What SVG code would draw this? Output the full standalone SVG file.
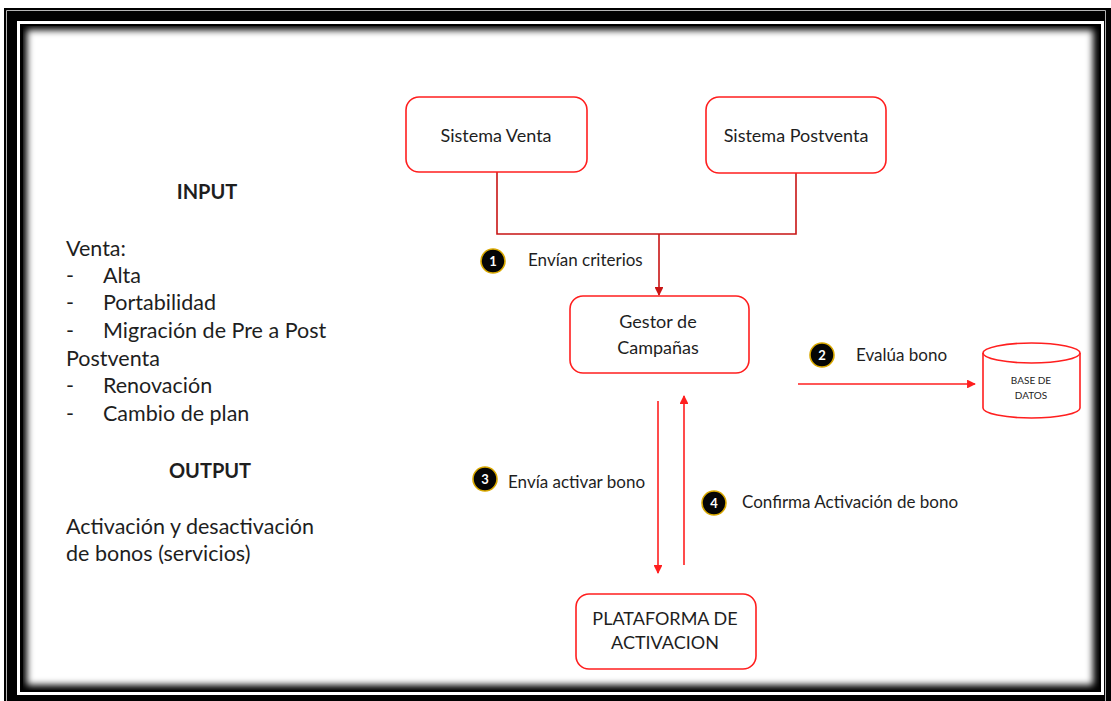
<svg xmlns="http://www.w3.org/2000/svg" width="1111" height="701" viewBox="0 0 1111 701">
  <defs>
    <style>
      .txt { font-family: Lato, "Open Sans", "Liberation Sans", sans-serif; fill: #1e1e1e; }
      .box { fill: #fff; stroke: #ff1f1f; stroke-width: 1.6; }
      .node-label { font-size: 18px; text-anchor: middle; }
      .flow-label { font-size: 17px; }
      .side { font-size: 21.5px; }
      .side-head { font-size: 20px; font-weight: bold; text-anchor: middle; }
      .badge circle { fill: #050505; stroke: #d9a800; stroke-width: 1.6; }
      .badge text { font-family: Lato, "Liberation Sans", sans-serif; font-size: 13px; font-weight: bold; fill: #fff; text-anchor: middle; }
      .feed { fill: none; stroke: #c81414; stroke-width: 1.6; }
      .flow { fill: none; stroke: #ff1f1f; stroke-width: 1.6; }
    </style>
    <marker id="head-dark" viewBox="0 0 10 10" refX="9" refY="5" markerWidth="5.5" markerHeight="5.5" orient="auto" markerUnits="strokeWidth">
      <path d="M0,0 L10,5 L0,10 z" fill="#c81414"/>
    </marker>
    <marker id="head" viewBox="0 0 10 10" refX="9" refY="5" markerWidth="5.5" markerHeight="5.5" orient="auto" markerUnits="strokeWidth">
      <path d="M0,0 L10,5 L0,10 z" fill="#ff1f1f"/>
    </marker>
    <filter id="soft" x="-5%" y="-5%" width="110%" height="110%">
      <feGaussianBlur stdDeviation="3.5"/>
    </filter>
    <clipPath id="inner-clip">
      <rect x="23" y="26" width="1076" height="664"/>
    </clipPath>
  </defs>

  <!-- page background -->
  <rect x="0" y="0" width="1111" height="701" fill="#fff"/>

  <!-- double frame with inner shadow -->
  <g id="frame">
    <rect x="4" y="8" width="1107" height="693" fill="#000"/>
    <path d="M6.5 701 V10.5 H1105.5 V701" fill="none" stroke="#b4b4b4" stroke-width="1"/>
    <rect x="17" y="21" width="1087" height="674" fill="#fff"/>
    <rect x="20" y="24" width="1081" height="668" fill="#000"/>
    <g clip-path="url(#inner-clip)">
      <rect x="27" y="30" width="1066" height="655" fill="#fff" filter="url(#soft)"/>
    </g>
  </g>

  <!-- left description -->
  <g id="summary" class="txt">
    <text class="side-head" x="207" y="199">INPUT</text>
    <text class="side" x="66" y="256">Venta:</text>
    <text class="side" x="66" y="283">-</text>
    <text class="side" x="103" y="283">Alta</text>
    <text class="side" x="66" y="310">-</text>
    <text class="side" x="103" y="310">Portabilidad</text>
    <text class="side" x="66" y="338">-</text>
    <text class="side" x="103" y="338">Migración de Pre a Post</text>
    <text class="side" x="66" y="366">Postventa</text>
    <text class="side" x="66" y="393">-</text>
    <text class="side" x="103" y="393">Renovación</text>
    <text class="side" x="66" y="421">-</text>
    <text class="side" x="103" y="421">Cambio de plan</text>
    <text class="side-head" x="210" y="478">OUTPUT</text>
    <text class="side" x="66" y="534">Activación y desactivación</text>
    <text class="side" x="66" y="561">de bonos (servicios)</text>
  </g>

  <!-- connectors -->
  <g id="connectors">
    <path class="feed" d="M497 172 V234 H796 V173"/>
    <path class="feed" d="M659 234 V295" marker-end="url(#head-dark)"/>
    <path class="flow" d="M798 384 H975" marker-end="url(#head)"/>
    <path class="flow" d="M658 401 V573" marker-end="url(#head)"/>
    <path class="flow" d="M684 565 V396" marker-end="url(#head)"/>
  </g>

  <!-- step labels -->
  <g id="step-1">
    <g class="badge"><circle cx="493" cy="261" r="12"/><text x="493" y="266">1</text></g>
    <text class="txt flow-label" x="528" y="266">Envían criterios</text>
  </g>
  <g id="step-2">
    <g class="badge"><circle cx="822" cy="355" r="12"/><text x="822" y="360">2</text></g>
    <text class="txt flow-label" x="856" y="361">Evalúa bono</text>
  </g>
  <g id="step-3">
    <g class="badge"><circle cx="485" cy="479" r="12"/><text x="485" y="484">3</text></g>
    <text class="txt flow-label" x="508" y="488">Envía activar bono</text>
  </g>
  <g id="step-4">
    <g class="badge"><circle cx="714" cy="503" r="12"/><text x="714" y="508">4</text></g>
    <text class="txt flow-label" x="742" y="508">Confirma Activación de bono</text>
  </g>

  <!-- nodes -->
  <g id="sistema-venta">
    <rect class="box" x="406" y="97" width="181" height="75" rx="13"/>
    <text class="txt node-label" x="496" y="142">Sistema Venta</text>
  </g>
  <g id="sistema-postventa">
    <rect class="box" x="706" y="97" width="180" height="76" rx="13"/>
    <text class="txt node-label" x="796" y="142">Sistema Postventa</text>
  </g>
  <g id="gestor-campanas">
    <rect class="box" x="570" y="296" width="179" height="77" rx="13"/>
    <text class="txt node-label" x="658" y="328">Gestor de</text>
    <text class="txt node-label" x="658" y="354">Campañas</text>
  </g>
  <g id="base-datos">
    <path class="box" d="M983 353 V408 A48.5 10 0 0 0 1080 408 V353 A48.5 10 0 0 0 983 353 Z"/>
    <path fill="none" stroke="#ff1f1f" stroke-width="1.6" d="M983 353 A48.5 10 0 0 0 1080 353"/>
    <text class="txt" x="1031" y="384" font-size="10" text-anchor="middle" fill="#555">BASE DE</text>
    <text class="txt" x="1031" y="399" font-size="10" text-anchor="middle" fill="#555">DATOS</text>
  </g>
  <g id="plataforma-activacion">
    <rect class="box" x="576" y="594" width="180" height="75" rx="13"/>
    <text class="txt node-label" x="665" y="625">PLATAFORMA DE</text>
    <text class="txt node-label" x="665" y="649">ACTIVACION</text>
  </g>
</svg>
